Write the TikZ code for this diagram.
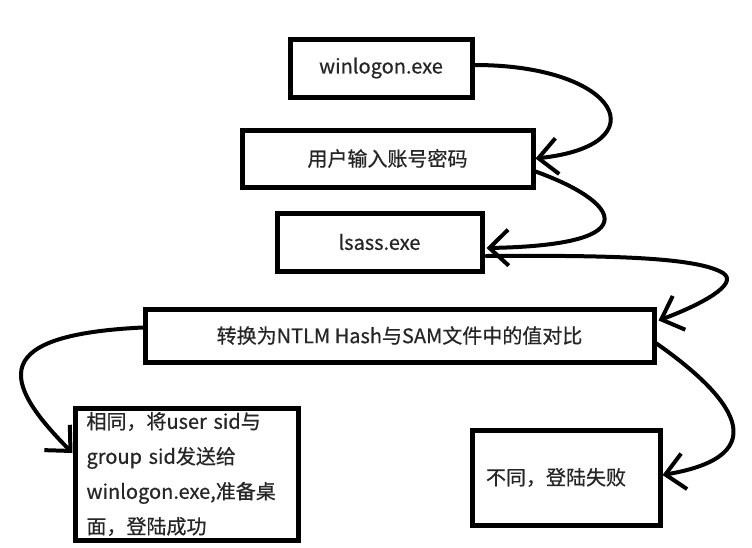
\documentclass[tikz,border=0pt]{standalone}
\usepackage{fontspec}
\setmainfont{Noto Sans CJK SC}[RawFeature={embolden=0.6}]
\usetikzlibrary{arrows.meta,calc}
\tikzset{
  box/.style={draw=black, line width=5pt, fill=white, rectangle, inner sep=0pt,
    font=\fontsize{20}{35}\selectfont, text=black!85},
  conn/.style={line width=4pt, line cap=round, line join=round,
    -{Straight Barb[length=19pt,width=36pt,line width=4pt]}}
}
\begin{document}
\begin{tikzpicture}[x=1pt,y=-1pt]
\fill[white] (0,0) rectangle (752,547);
\useasboundingbox (0,0) rectangle (752,547);

\node[box, minimum width=182pt, minimum height=58pt] (win) at (381,68) {winlogon.exe};
\node[box, minimum width=291pt, minimum height=57pt] (user) at (387.5,158.5) {用户输入账号密码};
\node[box, minimum width=205pt, minimum height=58pt] (lsass) at (379.5,242) {lsass.exe};
\node[box, minimum width=509pt, minimum height=53pt] (conv) at (399.5,335.5) {转换为NTLM Hash与SAM文件中的值对比};
\node[box, minimum width=221pt, minimum height=132pt, text width=200pt, inner xsep=11.5pt, align=left] (same) at (186.5,474)
  {相同，将user sid与\\group sid发送给\\winlogon.exe,准备桌\\面，登陆成功};
\node[box, minimum width=188pt, minimum height=95pt, text width=160pt, inner xsep=14pt, align=left] (diff) at (566,477.5)
  {不同，登陆失败};

\draw[conn] ($(win.east)+(0,-3)$) .. controls (620,65) and (660,145) .. (user.east);
\draw[conn] ($(user.east)+(0,13)$) .. controls (615,200) and (655,245) .. ($(lsass.east)+(2,6)$);
\draw[conn] ($(lsass.east)+(2,14)$) .. controls (620,255) and (698,258) .. (723,273)
  .. controls (740,284) and (700,305) .. ($(conv.east)+(2,-15)$);
\draw[conn] ($(conv.west)+(0,-8)$) .. controls (-10,335) and (0,380) .. ($(same.west)+(0,-21)$);
\draw[conn] ($(conv.east)+(0,8)$) .. controls (730,395) and (780,455) .. ($(diff.east)+(0,-2.5)$);
\end{tikzpicture}
\end{document}
